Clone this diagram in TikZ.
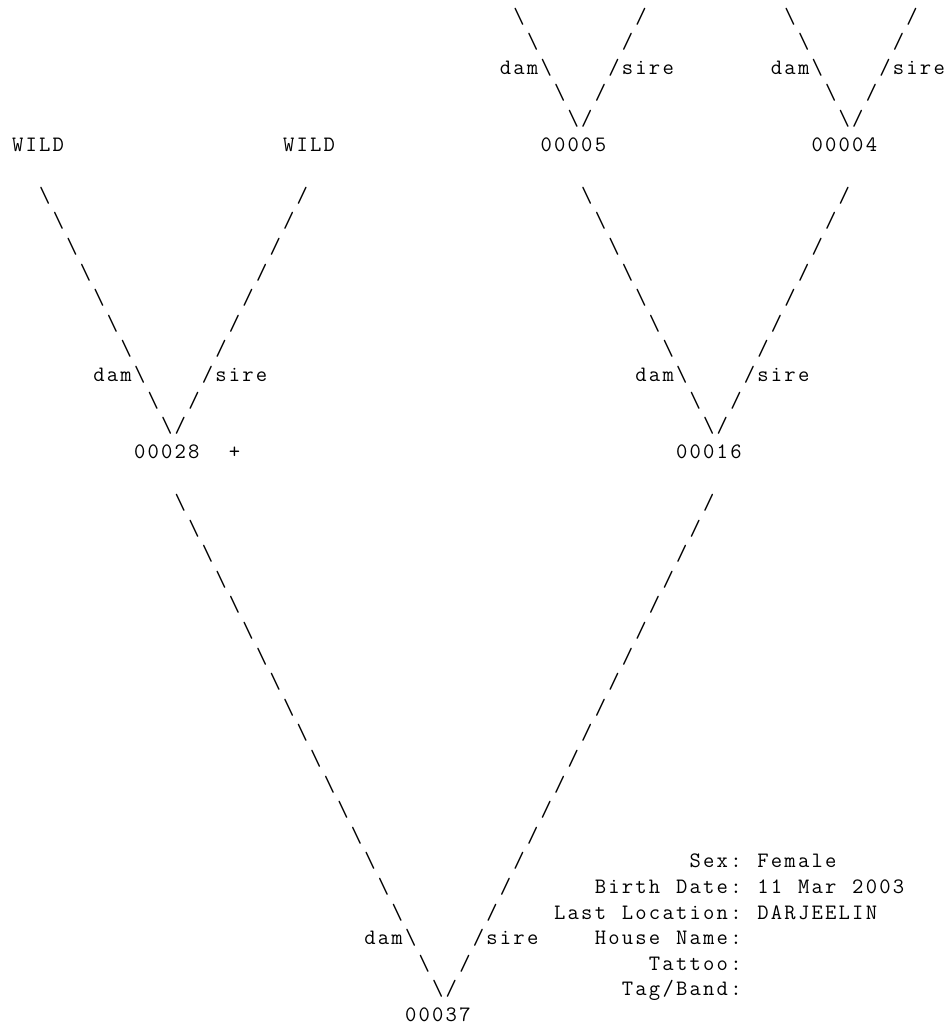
\documentclass[tikz,border=0pt]{standalone}
\usepackage{fontspec}
\makeatletter
\newcommand\fw[1]{\@tfor\fwnext:=#1\do{\makebox[13.55pt][c]{\fwnext}}}
\makeatother
\newcommand\bs{\textbackslash}
\tikzset{tok/.style={inner sep=0pt,outer sep=0pt,anchor=base west,
  font=\ttfamily\fontsize{22}{22}\selectfont}}
\newcommand\T[4]{\node[tok] (#1) at ({(11+(#2)*13.55)*1pt},{-(23+(#3)*25.6)*1pt}) {\fw{#4}};}
\begin{document}
\begin{tikzpicture}
\useasboundingbox (0,0) rectangle (950pt,-1028pt);
% --- top right: parents of 00005 and 00004
\T{a0l}{37}{0}{\bs}  \T{a0r}{46}{0}{/}  \T{b0l}{57}{0}{\bs}  \T{b0r}{66}{0}{/}
\T{a1l}{38}{1}{\bs}  \T{a1r}{45}{1}{/}  \T{b1l}{58}{1}{\bs}  \T{b1r}{65}{1}{/}
\T{a2l}{36}{2}{dam\bs} \T{a2r}{44}{2}{/sire} \T{b2l}{56}{2}{dam\bs} \T{b2r}{64}{2}{/sire}
\T{a3l}{40}{3}{\bs}  \T{a3r}{43}{3}{/}  \T{b3l}{60}{3}{\bs}  \T{b3r}{63}{3}{/}
\T{a4}{41}{4}{\bs/}  \T{b4}{61}{4}{\bs/}
% --- generation row
\T{wild1}{0}{5}{WILD} \T{wild2}{20}{5}{WILD} \T{n5}{39}{5}{00005} \T{n4}{59}{5}{00004}
% --- middle trees
\foreach \k in {0,...,6}{
  \T{cL\k}{2+\k}{7+\k}{\bs} \T{cR\k}{21-\k}{7+\k}{/}
  \T{dL\k}{42+\k}{7+\k}{\bs} \T{dR\k}{61-\k}{7+\k}{/}
}
\T{c14l}{6}{14}{dam\bs} \T{c14r}{14}{14}{/sire}
\T{d14l}{46}{14}{dam\bs} \T{d14r}{54}{14}{/sire}
\T{c15l}{10}{15}{\bs} \T{c15r}{13}{15}{/} \T{d15l}{50}{15}{\bs} \T{d15r}{53}{15}{/}
\T{c16}{11}{16}{\bs/} \T{d16}{51}{16}{\bs/}
\T{n28}{9}{17}{00028} \T{plus}{16}{17}{+} \T{n16}{49}{17}{00016}
% --- bottom tree
\foreach \k in {0,...,16}{
  \T{eL\k}{12+\k}{19+\k}{\bs} \T{eR\k}{51-\k}{19+\k}{/}
}
\T{e36l}{26}{36}{dam\bs} \T{e36r}{34}{36}{/sire}
\T{e37l}{30}{37}{\bs} \T{e37r}{33}{37}{/}
\T{e38}{31}{38}{\bs/}
\T{n37}{29}{39}{00037}
% --- info block
\T{sex}{50}{33}{Sex:} \T{sexv}{55}{33}{Female}
\T{bd1}{43}{34}{Birth} \T{bd2}{49}{34}{Date:} \T{bdv1}{55}{34}{11} \T{bdv2}{58}{34}{Mar} \T{bdv3}{62}{34}{2003}
\T{ll1}{40}{35}{Last} \T{ll2}{45}{35}{Location:} \T{llv}{55}{35}{DARJEELIN}
\T{hn1}{43}{36}{House} \T{hn2}{49}{36}{Name:}
\T{tat}{47}{37}{Tattoo:}
\T{tag}{45}{38}{Tag/Band:}
\end{tikzpicture}
\end{document}
